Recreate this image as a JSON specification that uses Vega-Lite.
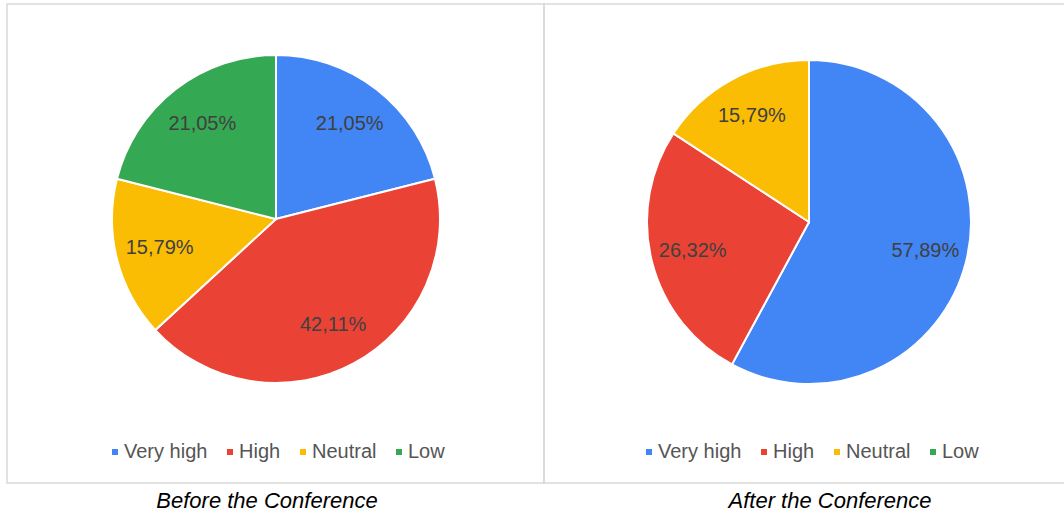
{
  "$schema": "https://vega.github.io/schema/vega-lite/v6.json",
  "padding": {"left": 6, "top": 3, "right": 0, "bottom": 0},
  "spacing": 0,
  "bounds": "flush",
  "background": "white",
  "config": {
    "font": "Liberation Sans",
    "view": {"stroke": null},
    "legend": {
      "orient": "none",
      "direction": "horizontal",
      "title": null,
      "symbolType": "square",
      "symbolSize": 36,
      "symbolStrokeWidth": 0,
      "labelFont": "Liberation Sans",
      "labelFontSize": 20,
      "labelColor": "#555555",
      "labelOffset": -1,
      "columnPadding": 12
    },
    "title": {
      "orient": "bottom",
      "font": "Liberation Sans",
      "fontSize": 22,
      "fontStyle": "italic",
      "fontWeight": "normal",
      "color": "#000000",
      "offset": 7
    }
  },
  "datasets": {
    "before": [
      {"level": "Very high", "o": 1, "v": 21.05, "label": "21,05%"},
      {"level": "High", "o": 2, "v": 42.11, "label": "42,11%"},
      {"level": "Neutral", "o": 3, "v": 15.79, "label": "15,79%"},
      {"level": "Low", "o": 4, "v": 21.05, "label": "21,05%"}
    ],
    "after": [
      {"level": "Very high", "o": 1, "v": 57.89, "label": "57,89%"},
      {"level": "High", "o": 2, "v": 26.32, "label": "26,32%"},
      {"level": "Neutral", "o": 3, "v": 15.79, "label": "15,79%"},
      {"level": "Low", "o": 4, "v": 0, "label": "0,00%"}
    ],
    "frame": [{"f": 1}]
  },
  "hconcat": [
    {
      "width": 537,
      "height": 479,
      "title": {"text": "Before the Conference", "dx": -8.5},
      "layer": [
        {
          "data": {"name": "frame"},
          "mark": {"type": "rect", "fill": null, "stroke": "#d9d9d9", "strokeWidth": 1.5},
          "encoding": {}
        },
        {
          "data": {"name": "before"},
          "mark": {"type": "arc", "radius": 164, "stroke": "white", "strokeWidth": 2, "xOffset": 0.5, "yOffset": -24.5},
          "encoding": {
            "theta": {"field": "v", "type": "quantitative", "stack": true},
            "order": {"field": "o", "type": "quantitative"},
            "color": {
              "field": "level",
              "type": "nominal",
              "scale": {"domain": ["Very high", "High", "Neutral", "Low"], "range": ["#4285f4", "#ea4335", "#fbbc04", "#34a853"]},
              "sort": ["Very high", "High", "Neutral", "Low"],
              "legend": {"legendX": 98, "legendY": 438}
            }
          }
        },
        {
          "data": {"name": "before"},
          "transform": [{"filter": "datum.v > 0"}],
          "mark": {"type": "text", "radius": 120, "fontSize": 20, "color": "#404040", "xOffset": 0.5, "yOffset": -24.5},
          "encoding": {
            "theta": {"field": "v", "type": "quantitative", "stack": true},
            "order": {"field": "o", "type": "quantitative"},
            "text": {"field": "label", "type": "nominal"}
          }
        }
      ]
    },
    {
      "width": 522,
      "height": 479,
      "title": {"text": "After the Conference", "dx": 25},
      "layer": [
        {
          "data": {"name": "frame"},
          "mark": {"type": "rect", "fill": null, "stroke": "#d9d9d9", "strokeWidth": 1.5},
          "encoding": {}
        },
        {
          "data": {"name": "after"},
          "mark": {"type": "arc", "radius": 162, "stroke": "white", "strokeWidth": 2, "xOffset": 4, "yOffset": -21.5},
          "encoding": {
            "theta": {"field": "v", "type": "quantitative", "stack": true},
            "order": {"field": "o", "type": "quantitative"},
            "color": {
              "field": "level",
              "type": "nominal",
              "scale": {"domain": ["Very high", "High", "Neutral", "Low"], "range": ["#4285f4", "#ea4335", "#fbbc04", "#34a853"]},
              "sort": ["Very high", "High", "Neutral", "Low"],
              "legend": {"legendX": 95, "legendY": 438}
            }
          }
        },
        {
          "data": {"name": "after"},
          "transform": [{"filter": "datum.v > 0"}],
          "mark": {"type": "text", "radius": 120, "fontSize": 20, "color": "#404040", "xOffset": 4, "yOffset": -21.5},
          "encoding": {
            "theta": {"field": "v", "type": "quantitative", "stack": true},
            "order": {"field": "o", "type": "quantitative"},
            "text": {"field": "label", "type": "nominal"}
          }
        }
      ]
    }
  ],
  "resolve": {"scale": {"color": "independent"}}
}
